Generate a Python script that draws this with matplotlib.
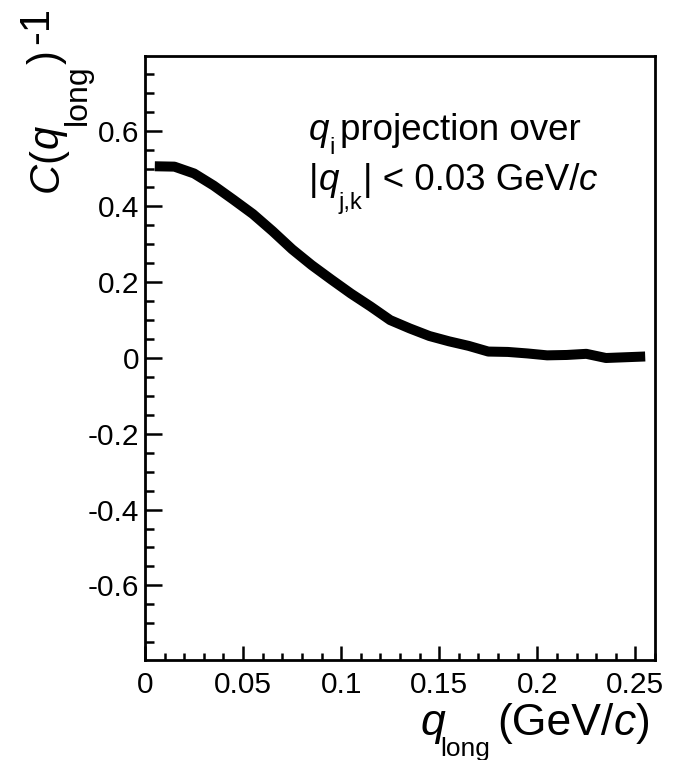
import matplotlib
matplotlib.use("Agg")
import matplotlib.pyplot as plt
from matplotlib.ticker import MultipleLocator, FormatStrFormatter

# Projection of the correlation function onto q_long (bin centres, GeV/c)
q_long = [0.005, 0.015, 0.025, 0.035, 0.045, 0.055, 0.065, 0.075, 0.085,
          0.095, 0.105, 0.115, 0.125, 0.135, 0.145, 0.155, 0.165, 0.175,
          0.185, 0.195, 0.205, 0.215, 0.225, 0.235, 0.245, 0.255]
c_minus_1 = [0.506, 0.505, 0.487, 0.455, 0.418, 0.380, 0.335, 0.287, 0.245,
             0.207, 0.170, 0.136, 0.100, 0.078, 0.058, 0.044, 0.032, 0.017,
             0.016, 0.012, 0.007, 0.008, 0.011, 0.000, 0.002, 0.004]

x_limits = (0.0, 0.26)
y_limits = (-0.797, 0.797)

plt.rcParams['font.family'] = ['Liberation Sans', 'DejaVu Sans']
plt.rcParams['axes.unicode_minus'] = False

W, H = 684, 760
fig = plt.figure(figsize=(W / 100, H / 100), dpi=100)
fig.patch.set_facecolor('white')

L, R, T, B = 145, 655, 56, 660
ax = fig.add_axes([L / W, 1 - B / H, (R - L) / W, (B - T) / H])
ax.plot(q_long, c_minus_1, color='black', lw=7.2,
        solid_joinstyle='round', solid_capstyle='butt')
ax.set_xlim(*x_limits)
ax.set_ylim(*y_limits)

for s in ax.spines.values():
    s.set_linewidth(2.0)

ax.xaxis.set_major_locator(MultipleLocator(0.05))
ax.xaxis.set_minor_locator(MultipleLocator(0.01))
ax.yaxis.set_major_locator(MultipleLocator(0.2))
ax.yaxis.set_minor_locator(MultipleLocator(0.05))
ax.xaxis.set_major_formatter(FormatStrFormatter('%g'))
ax.yaxis.set_major_formatter(FormatStrFormatter('%g'))
ax.tick_params(which='both', direction='in', top=False, right=False,
               width=1.8, labelsize=21.5, colors='black')
ax.tick_params(axis='y', which='major', length=12, pad=4)
ax.tick_params(axis='y', which='minor', length=6.5)
ax.tick_params(axis='x', which='major', length=10, pad=8)
ax.tick_params(axis='x', which='minor', length=5)

renderer = fig.canvas.get_renderer()


def put(x, y, s, size, style='normal', rot=0):
    """Place text with its baseline start at pixel (x, y) from the top-left."""
    t = fig.text(x / W, 1 - y / H, s, fontsize=size, style=style,
                 ha='left', va='baseline', rotation=rot,
                 rotation_mode='anchor', color='black')
    bb = t.get_window_extent(renderer)
    return bb.width if rot == 0 else bb.height


# x-axis title: q_long (GeV/c)
put(420, 735, 'q', 32, 'italic')
put(440, 756, 'long', 19)
x = 497
x += put(x, 735, '(GeV/', 32)
x += put(x, 735, 'c', 32, 'italic')
put(x, 735, ')', 32)

# y-axis title: C(q_long) -1, reading upwards
y = 192
y -= put(58, y, 'C', 30, 'italic', rot=90)
y -= put(58, y, '(', 30, rot=90)
y -= put(58, y, 'q', 30, 'italic', rot=90)
y -= put(86, y, 'long', 23, rot=90)
y -= put(58, y, ')', 30, rot=90)
put(48, y - 6, '-1', 30, rot=90)

# projection note
x = 309
x += put(x, 140, 'q', 26.5, 'italic')
x += put(x, 154, 'i', 17)
put(x + 5, 140, 'projection over', 26.5)
x = 309
x += put(x, 190, '|', 26.5)
x += put(x, 190, 'q', 26.5, 'italic')
x += put(x, 209, 'j,k', 17)
x += put(x, 190, '| < 0.03 GeV/', 26.5)
put(x, 190, 'c', 26.5, 'italic')

fig.savefig('out.png', dpi=100, facecolor='white')
